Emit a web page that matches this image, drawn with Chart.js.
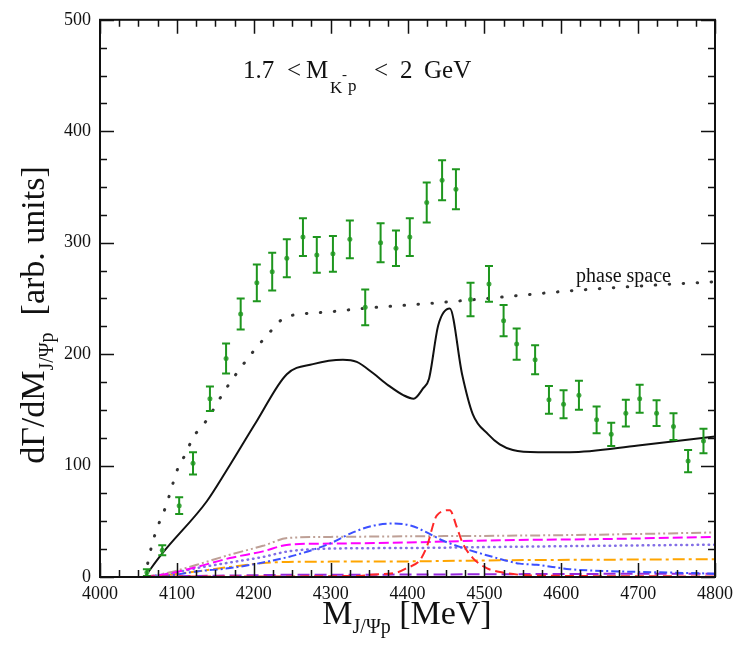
<!DOCTYPE html>
<html>
<head>
<meta charset="utf-8">
<script src="https://cdn.jsdelivr.net/npm/chart.js@4.4.1/dist/chart.umd.min.js"></script>
<style>
  html, body { margin: 0; padding: 0; background: #fff; }
  #wrap { position: relative; width: 739px; height: 646px; }
</style>
</head>
<body>
<div id="wrap"><canvas id="spectrum"></canvas></div>
<script>
const SERIF = '"Liberation Serif", "DejaVu Serif", serif';

// J/psi p invariant mass spectrum, 1.7 < M(K-p) < 2 GeV
const massBins = [4061, 4081, 4103, 4121, 4143, 4164, 4183, 4204, 4224, 4243, 4264, 4282, 4303, 4325, 4345, 4365, 4385, 4403, 4425, 4445, 4463, 4482, 4506, 4525, 4542, 4566, 4584, 4603, 4623, 4646, 4665, 4684, 4702, 4724, 4746, 4765, 4785];
const yields = [4, 24, 64, 102, 160, 196, 236, 264, 274, 286, 305, 289, 290, 303, 242, 300, 295, 305, 336, 356, 348, 249, 263, 230, 209, 195, 159, 155, 163, 141, 128, 147, 160, 147, 135, 104, 122];
const yieldErrors = [3, 4.5, 7.5, 10, 11, 13.5, 14, 16.5, 17, 17, 17, 16, 16, 17, 16, 17.5, 16, 17, 18, 18, 18, 15, 16, 14, 14, 13, 12.5, 12.5, 13, 12, 10.5, 12, 12.5, 11.5, 12, 10, 11];

// full model
const totalMass = [4058, 4082, 4139, 4165, 4204, 4243, 4277, 4316, 4334, 4355, 4375, 4395, 4408, 4420, 4428, 4440, 4455, 4471, 4485, 4505, 4520, 4537, 4570, 4611, 4700, 4800];
const totalRate = [0, 22, 68, 96, 140, 182, 191, 195, 193, 183, 172, 163, 160, 169, 178, 226, 241, 182, 146, 128, 119, 114, 112, 112, 118, 126];

// phase space
const phaseMass = [4058, 4061, 4068, 4075, 4086, 4094, 4101, 4111, 4121, 4138, 4163, 4178, 4199, 4224, 4240, 4251, 4300, 4342, 4400, 4455, 4520, 4615, 4700, 4800];
const phaseRate = [0, 9, 30, 45, 64, 82, 97, 110, 125, 140, 168, 183, 202, 222, 233, 235, 238, 241, 244, 247, 251, 257, 261, 265];

// individual contributions
const blueMass = [4060, 4087, 4126, 4169, 4212, 4256, 4299, 4329, 4355, 4381, 4405, 4425, 4445, 4468, 4511, 4546, 4568, 4611, 4676, 4740, 4800];
const blueRate = [0, 1, 5, 8, 13, 20, 30, 40, 46, 48, 46, 40, 33, 27, 18, 12, 11, 7, 5, 4, 3];
const redMass = [4060, 4200, 4338, 4351, 4386, 4399, 4416, 4425, 4438, 4455, 4464, 4472, 4485, 4503, 4524, 4546, 4600, 4800];
const redRate = [0.5, 0.5, 1, 2, 4, 8, 15, 27, 55, 60, 45, 30, 17, 8, 4, 2, 1, 0.5];
const bgMass = [4058, 4090, 4126, 4169, 4212, 4245, 4300, 4400, 4520, 4650, 4800];
const magentaRate = [0, 3, 9, 17, 23, 29, 30, 31, 33, 34, 36];
const brownRate = [0, 4, 11, 20, 28, 35, 36, 36.5, 37, 38, 40];
const purpleRate = [0, 3, 8, 13, 18, 23, 25.5, 26, 27, 28, 29];
const orangeRate = [0, 2, 5, 9, 12.5, 13.5, 13.8, 14, 15, 15.5, 16];
const violetRate = [0, 0.5, 1, 1.3, 1.7, 2, 2, 2.2, 2.5, 2.8, 3];

const pairs = (xs, ys) => xs.map((x, i) => ({ x, y: ys[i] }));

function curve(xs, ys, color, dash, width) {
  return {
    data: pairs(xs, ys),
    showLine: true,
    borderColor: color,
    borderWidth: width || 2,
    borderDash: dash,
    pointRadius: 0,
    cubicInterpolationMode: 'monotone',
    fill: false
  };
}

const dataColor = 'rgb(30,150,30)';

const errorBars = {
  id: 'errorBars',
  afterDatasetsDraw(chart) {
    const { ctx, scales: { x, y } } = chart;
    ctx.save();
    ctx.strokeStyle = dataColor;
    ctx.lineWidth = 2;
    massBins.forEach((m, i) => {
      const px = x.getPixelForValue(m);
      const lo = y.getPixelForValue(yields[i] - yieldErrors[i]);
      const hi = y.getPixelForValue(yields[i] + yieldErrors[i]);
      ctx.beginPath();
      ctx.moveTo(px, lo); ctx.lineTo(px, hi);
      ctx.moveTo(px - 4, lo); ctx.lineTo(px + 4, lo);
      ctx.moveTo(px - 4, hi); ctx.lineTo(px + 4, hi);
      ctx.stroke();
    });
    ctx.restore();
  }
};

// closed frame with inward ticks on all four sides
const frame = {
  id: 'frame',
  afterDatasetsDraw(chart) {
    const { ctx, chartArea: a, scales: { x, y } } = chart;
    ctx.save();
    ctx.strokeStyle = '#111';
    ctx.lineWidth = 1.5;
    ctx.beginPath();
    x.ticks.forEach(t => {
      const px = Math.round(x.getPixelForValue(t.value)) + 0.5;
      const len = t.value % 100 === 0 ? 14 : 7;
      ctx.moveTo(px, a.bottom); ctx.lineTo(px, a.bottom - len);
      ctx.moveTo(px, a.top); ctx.lineTo(px, a.top + len);
    });
    y.ticks.forEach(t => {
      const py = Math.round(y.getPixelForValue(t.value)) + 0.5;
      const len = t.value % 100 === 0 ? 14 : 7;
      ctx.moveTo(a.left, py); ctx.lineTo(a.left + len, py);
      ctx.moveTo(a.right, py); ctx.lineTo(a.right - len, py);
    });
    ctx.stroke();
    ctx.lineWidth = 2;
    ctx.strokeRect(a.left, a.top, a.right - a.left, a.bottom - a.top);
    ctx.restore();
  }
};

function drawRich(ctx, x, y, parts, align) {
  let total = 0;
  parts.forEach(p => { ctx.font = p.s + 'px ' + SERIF; total += ctx.measureText(p.t).width; });
  let cx = align === 'center' ? x - total / 2 : x;
  parts.forEach(p => {
    ctx.font = p.s + 'px ' + SERIF;
    ctx.fillText(p.t, cx, y + (p.dy || 0));
    cx += ctx.measureText(p.t).width;
  });
}

const labels = {
  id: 'labels',
  afterDraw(chart) {
    const ctx = chart.ctx;
    ctx.save();
    ctx.fillStyle = '#111';
    ctx.textBaseline = 'alphabetic';
    ctx.textAlign = 'left';

    drawRich(ctx, 407, 624, [
      { t: 'M', s: 34 }, { t: 'J/\u03A8p', s: 20, dy: 9 }, { t: ' [MeV]', s: 34 }
    ], 'center');

    ctx.save();
    ctx.translate(44, 315);
    ctx.rotate(-Math.PI / 2);
    drawRich(ctx, 0, 0, [
      { t: 'd\u0393/dM', s: 34 }, { t: 'J/\u03A8p', s: 20, dy: 9 }, { t: '  [arb. units]', s: 34 }
    ], 'center');
    ctx.restore();

    // mass window
    const put = (t, x, y, s) => { ctx.font = s + 'px ' + SERIF; ctx.fillText(t, x, y); };
    put('1.7', 243, 78, 25);
    put('<', 287, 78, 25);
    put('M', 306, 78, 25);
    put('K', 330, 93, 17);
    put('-', 342, 79, 15);
    put('p', 348, 91, 17);
    put('<', 374, 78, 25);
    put('2', 400, 78, 25);
    put('GeV', 424, 78, 25);

    put('phase space', 576, 282, 20);
    ctx.restore();
  }
};

const tickFont = { family: SERIF, size: 18 };

new Chart(document.getElementById('spectrum'), {
  type: 'scatter',
  data: {
    datasets: [
      {
        data: pairs(massBins, yields),
        pointRadius: 2.5,
        pointBackgroundColor: 'rgb(70,170,70)',
        pointBorderWidth: 0,
        showLine: false
      },
      curve(totalMass, totalRate, '#111', [], 2),
      Object.assign(curve(phaseMass, phaseRate, '#333', [0.5, 13.5], 3), { borderCapStyle: 'round' }),
      curve(redMass, redRate, 'rgb(255,40,40)', [9, 5], 2),
      curve(blueMass, blueRate, 'rgb(60,80,255)', [8, 3, 2, 3], 2),
      curve(bgMass, magentaRate, 'rgb(255,0,255)', [10, 4], 2),
      curve(bgMass, brownRate, 'rgb(190,160,150)', [10, 3, 2, 3, 2, 3], 2),
      Object.assign(curve(bgMass, purpleRate, 'rgb(130,110,230)', [0.5, 5], 2.5), { borderCapStyle: 'round' }),
      curve(bgMass, orangeRate, 'rgb(255,165,0)', [12, 4, 3, 4], 2),
      curve(bgMass, violetRate, 'rgb(150,40,220)', [12, 5], 2)
    ]
  },
  options: {
    responsive: true,
    maintainAspectRatio: false,
    animation: false,
    layout: { padding: { top: 16, right: 24, left: 0, bottom: 0 } },
    plugins: { legend: { display: false }, tooltip: { enabled: false } },
    scales: {
      x: {
        type: 'linear',
        min: 4000,
        max: 4800,
        grid: { display: false, drawTicks: false },
        border: { display: false },
        ticks: {
          stepSize: 25,
          autoSkip: false,
          maxRotation: 0,
          padding: 6,
          color: '#111',
          font: tickFont,
          callback: v => (v % 100 === 0 ? String(v) : '')
        },
        afterFit: s => { s.height = 69; }
      },
      y: {
        min: 0,
        max: 500,
        grid: { display: false, drawTicks: false },
        border: { display: false },
        ticks: {
          stepSize: 25,
          autoSkip: false,
          padding: 9,
          color: '#111',
          font: tickFont,
          callback: v => (v % 100 === 0 ? String(v) : '')
        },
        afterFit: s => { s.width = 100; }
      }
    }
  },
  plugins: [errorBars, frame, labels]
});
</script>
</body>
</html>
